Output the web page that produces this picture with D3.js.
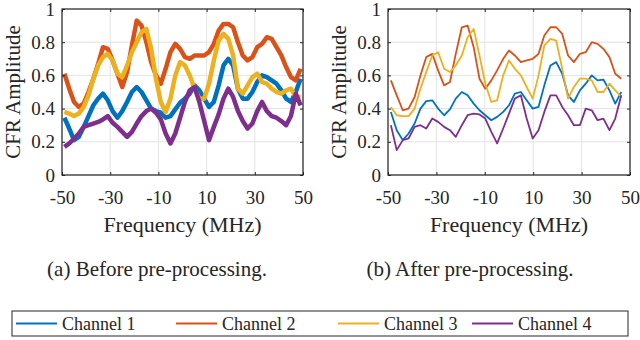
<!DOCTYPE html>
<html>
<head>
<meta charset="utf-8">
<script src="https://cdn.jsdelivr.net/npm/d3@7"></script>
<style>
    body { margin: 0; background: #fff; }
    svg text { font-family: "Liberation Serif", "Times New Roman", serif !important; fill: #262626; }
</style>
</head>
<body>
<script>
// raw CFR (before pre-processing), read every 2 MHz
const freq_raw = [-49, -47, -45, -43, -41, -39, -37, -35, -33, -31, -29, -27, -25, -23, -21, -19, -17, -15, -13, -11,
    -9, -7, -5, -3, -1, 1, 3, 5, 7, 9, 11, 13, 15, 17, 19, 21, 23, 25, 27, 29, 31, 33, 35, 37, 39, 41, 43, 45, 47, 49];
const raw_ch1 = [0.345, 0.28, 0.21, 0.23, 0.29, 0.355, 0.42, 0.46, 0.49, 0.45, 0.385, 0.345, 0.385, 0.44, 0.50, 0.53, 0.50, 0.45, 0.40, 0.385,
    0.375, 0.345, 0.355, 0.395, 0.435, 0.46, 0.49, 0.54, 0.51, 0.46, 0.41, 0.44, 0.54, 0.66, 0.70, 0.66, 0.52, 0.46, 0.46, 0.50,
    0.56, 0.60, 0.59, 0.57, 0.55, 0.51, 0.46, 0.44, 0.50, 0.58];
const raw_ch2 = [0.61, 0.52, 0.44, 0.41, 0.43, 0.50, 0.58, 0.67, 0.77, 0.76, 0.69, 0.61, 0.53, 0.62, 0.78, 0.93, 0.90, 0.80, 0.68, 0.60,
    0.55, 0.64, 0.74, 0.79, 0.76, 0.71, 0.70, 0.72, 0.72, 0.72, 0.74, 0.79, 0.87, 0.91, 0.91, 0.89, 0.80, 0.72, 0.69, 0.71,
    0.77, 0.79, 0.83, 0.82, 0.77, 0.72, 0.65, 0.59, 0.57, 0.64];
const raw_ch3 = [0.38, 0.37, 0.355, 0.37, 0.41, 0.48, 0.58, 0.66, 0.71, 0.73, 0.69, 0.61, 0.59, 0.66, 0.74, 0.80, 0.86, 0.88, 0.76, 0.58,
    0.44, 0.38, 0.46, 0.60, 0.68, 0.66, 0.60, 0.52, 0.46, 0.46, 0.55, 0.69, 0.81, 0.85, 0.82, 0.72, 0.52, 0.49, 0.54, 0.59,
    0.61, 0.56, 0.55, 0.52, 0.50, 0.49, 0.51, 0.52, 0.47, 0.47];
const raw_ch4 = [0.17, 0.19, 0.22, 0.25, 0.29, 0.30, 0.31, 0.32, 0.335, 0.355, 0.315, 0.29, 0.26, 0.23, 0.26, 0.31, 0.355, 0.385, 0.40, 0.375,
    0.335, 0.25, 0.19, 0.25, 0.345, 0.44, 0.51, 0.53, 0.44, 0.325, 0.21, 0.29, 0.365, 0.46, 0.52, 0.47, 0.385, 0.325, 0.28, 0.31,
    0.385, 0.44, 0.385, 0.355, 0.345, 0.325, 0.30, 0.355, 0.49, 0.42];

// processed CFR (after pre-processing)
const freq_proc = [-48.8, -46.4, -43.9, -41.5, -39.0, -36.6, -34.2, -31.7, -29.3, -26.8, -24.4, -22.0, -19.5, -17.1, -14.6, -12.2, -9.8, -7.3, -4.9, -2.4,
    0.0, 2.4, 4.9, 7.3, 9.8, 12.2, 14.6, 17.1, 19.5, 22.0, 24.4, 26.8, 29.3, 31.7, 34.2, 36.6, 39.0, 41.5, 43.9, 46.4];
const proc_ch1 = [0.38, 0.27, 0.21, 0.25, 0.31, 0.40, 0.445, 0.45, 0.40, 0.36, 0.395, 0.46, 0.50, 0.48, 0.43, 0.39, 0.36, 0.33, 0.35, 0.38,
    0.42, 0.49, 0.50, 0.45, 0.40, 0.41, 0.54, 0.66, 0.68, 0.61, 0.48, 0.44, 0.51, 0.55, 0.60, 0.57, 0.575, 0.51, 0.43, 0.50];
const proc_ch2 = [0.57, 0.48, 0.39, 0.40, 0.47, 0.60, 0.71, 0.73, 0.63, 0.54, 0.56, 0.73, 0.89, 0.90, 0.77, 0.58, 0.52, 0.57, 0.63, 0.70,
    0.75, 0.72, 0.68, 0.69, 0.70, 0.73, 0.84, 0.89, 0.89, 0.85, 0.72, 0.68, 0.73, 0.74, 0.80, 0.79, 0.76, 0.71, 0.61, 0.58];
const proc_ch3 = [0.41, 0.36, 0.355, 0.355, 0.40, 0.52, 0.62, 0.72, 0.74, 0.64, 0.62, 0.66, 0.72, 0.83, 0.88, 0.72, 0.55, 0.44, 0.45, 0.60,
    0.69, 0.64, 0.60, 0.53, 0.46, 0.60, 0.78, 0.82, 0.81, 0.64, 0.46, 0.53, 0.58, 0.58, 0.57, 0.50, 0.50, 0.55, 0.51, 0.47];
const proc_ch4 = [0.30, 0.15, 0.21, 0.22, 0.29, 0.30, 0.28, 0.34, 0.32, 0.29, 0.27, 0.23, 0.30, 0.36, 0.37, 0.365, 0.34, 0.26, 0.19, 0.28,
    0.37, 0.46, 0.48, 0.34, 0.22, 0.27, 0.38, 0.48, 0.48, 0.41, 0.36, 0.30, 0.30, 0.40, 0.39, 0.33, 0.34, 0.27, 0.34, 0.48];

const channel_names = ["Channel 1", "Channel 2", "Channel 3", "Channel 4"];
const channel_colors = ["#0072BD", "#D95319", "#EDB120", "#7E2F8E"];
const x_ticks = [-50, -30, -10, 10, 30, 50];
const x_tick_labels = ["-50", "-30", "-10", "10", "30", "50"];
const y_ticks = [0, 0.2, 0.4, 0.6, 0.8, 1];
const y_tick_labels = ["0", "0.2", "0.4", "0.6", "0.8", "1"];

const serif = "Liberation Serif";

const svg = d3.select("body").append("svg")
    .attr("width", 640)
    .attr("height", 340);

class CfrPanel {
    constructor(name, left, right, caption, caption_x) {
        this.name = name;
        this.left = left;
        this.right = right;
        this.top = 9;
        this.bottom = 175;
        this.caption = caption;
        this.caption_x = caption_x;
        this.x = d3.scaleLinear().domain([-50, 50]).range([left, right]);
        this.y = d3.scaleLinear().domain([0, 1]).range([this.bottom, this.top]);
        this.g = svg.append("g").attr("id", name);
    }

    construct_frame(self = this) {
        // grid
        self.g.selectAll(".xgrid").data(x_ticks).enter().append("line")
            .attr("x1", d => self.x(d)).attr("x2", d => self.x(d))
            .attr("y1", self.top).attr("y2", self.bottom)
            .attr("stroke", "#e3e3e3").attr("stroke-width", 1);
        self.g.selectAll(".ygrid").data(y_ticks).enter().append("line")
            .attr("x1", self.left).attr("x2", self.right)
            .attr("y1", d => self.y(d)).attr("y2", d => self.y(d))
            .attr("stroke", "#e3e3e3").attr("stroke-width", 1);
    }

    construct_axes(self = this) {
        const style = (g) => {
            g.attr("font-family", serif);
            g.select(".domain").remove();
            g.selectAll(".tick line").attr("stroke", "#262626");
            g.selectAll(".tick text").attr("font-size", 19).attr("fill", "#262626")
                .attr("font-family", serif);
        };
        self.g.append("g")
            .attr("transform", "translate(0," + self.bottom + ")")
            .call(d3.axisBottom(self.x).tickValues(x_ticks).tickSize(-3).tickPadding(16)
                .tickFormat((d, i) => x_tick_labels[i]))
            .call(style);
        self.g.append("g")
            .attr("transform", "translate(0," + self.top + ")")
            .call(d3.axisTop(self.x).tickValues(x_ticks).tickSize(-3).tickFormat(""))
            .call(style);
        self.g.append("g")
            .attr("transform", "translate(" + self.left + ",0)")
            .call(d3.axisLeft(self.y).tickValues(y_ticks).tickSize(-3).tickPadding(7)
                .tickFormat((d, i) => y_tick_labels[i]))
            .call(style);
        self.g.append("g")
            .attr("transform", "translate(" + self.right + ",0)")
            .call(d3.axisRight(self.y).tickValues(y_ticks).tickSize(-3).tickFormat(""))
            .call(style);

        self.g.append("rect")
            .attr("x", self.left).attr("y", self.top)
            .attr("width", self.right - self.left).attr("height", self.bottom - self.top)
            .attr("fill", "none").attr("stroke", "#262626").attr("stroke-width", 1.2);

        self.g.append("text")
            .attr("x", (self.left + self.right) / 2).attr("y", 232)
            .attr("text-anchor", "middle").attr("font-size", 22).attr("font-family", serif)
            .text("Frequency (MHz)");
        self.g.append("text")
            .attr("transform", "translate(" + (self.left - 42) + "," + (self.top + self.bottom) / 2 + ") rotate(-90)")
            .attr("text-anchor", "middle").attr("font-size", 21).attr("font-family", serif)
            .text("CFR Amplitude");
        self.g.append("text")
            .attr("x", self.caption_x).attr("y", 276)
            .attr("text-anchor", "middle").attr("font-size", 21).attr("font-family", serif)
            .text(self.caption);
    }

    add_lines(freqs, series, width, self = this) {
        const line = d3.line()
            .x((d, i) => self.x(freqs[i]))
            .y(d => self.y(d));
        self.g.append("g").attr("class", "lines")
            .selectAll("path").data(series).enter().append("path")
            .attr("d", d => line(d))
            .attr("fill", "none")
            .attr("stroke", (d, i) => channel_colors[i])
            .attr("stroke-width", width)
            .attr("stroke-linejoin", "round");
    }
}

const before = new CfrPanel("before", 62, 303, "(a) Before pre-processing.", 157);
before.construct_frame();
before.add_lines(freq_raw, [raw_ch1, raw_ch2, raw_ch3, raw_ch4], 4.5);
before.construct_axes();

const after = new CfrPanel("after", 388, 630, "(b) After pre-processing.", 470);
after.construct_frame();
after.add_lines(freq_proc, [proc_ch1, proc_ch2, proc_ch3, proc_ch4], 1.8);
after.construct_axes();

// legend
const legend = svg.append("g").attr("id", "legend");
legend.append("rect")
    .attr("x", 12).attr("y", 311).attr("width", 616).attr("height", 25)
    .attr("fill", "#fff").attr("stroke", "#262626").attr("stroke-width", 1);
const legend_x = [16, 176, 338, 472];
channel_names.forEach(function (name, i) {
    legend.append("line")
        .attr("x1", legend_x[i]).attr("x2", legend_x[i] + 41)
        .attr("y1", 323.5).attr("y2", 323.5)
        .attr("stroke", channel_colors[i]).attr("stroke-width", 2);
    legend.append("text")
        .attr("x", legend_x[i] + 46).attr("y", 330)
        .attr("font-size", 18).attr("font-family", serif)
        .text(name);
});
</script>
</body>
</html>
